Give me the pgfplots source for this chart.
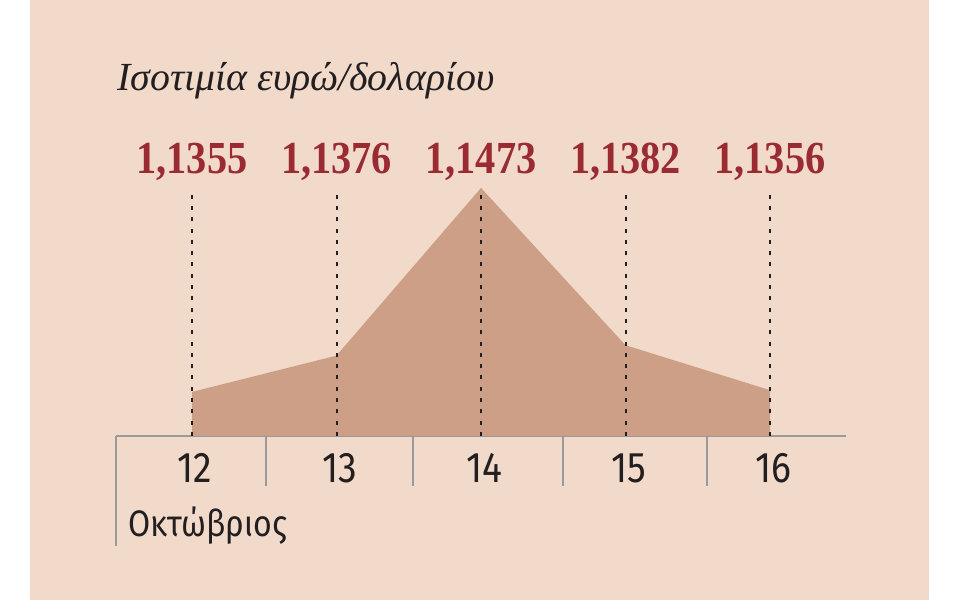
\documentclass[border=0pt]{standalone}
\usepackage{pgfplots}
\pgfplotsset{compat=1.18}
\usepackage{fontspec}
\setmainfont{Fira Sans}
\newfontfamily\condsans[FakeStretch=0.87]{Fira Sans}
\newfontfamily\titlefont{Liberation Serif}
\newfontfamily\numfont[FakeStretch=0.88]{Liberation Serif}
\definecolor{bgc}{HTML}{F1DACA}
\definecolor{areac}{HTML}{CC9F86}
\definecolor{redc}{HTML}{9B2B33}
\definecolor{greyc}{HTML}{9A9A9A}
\definecolor{inkc}{HTML}{231F20}
\begin{document}
\begin{tikzpicture}[x=1bp,y=1bp]
\fill[white] (0,0) rectangle (960,600);
\fill[bgc] (30,0) rectangle (929,600);
\begin{axis}[
  at={(116bp,164bp)}, anchor=south west,
  scale only axis, width=730bp, height=260.2bp,
  xmin=11.474, xmax=16.526, ymin=1.13295, ymax=1.1480,
  axis x line=bottom, axis y line=none,
  axis line style={-, greyc, line width=2bp},
  xtick={11.474,12.512,13.529,14.567,15.564},
  xticklabels={},
  tick align=outside, major tick length=50bp,
  tick style={greyc, line width=2bp},
  extra x ticks={12,13,14,15,16},
  extra x tick labels={12,13,14,15,16},
  extra x tick style={major tick length=0pt, tick style={draw=none},
    xticklabel style={anchor=base, yshift=-47bp, xshift=3bp, inner sep=0pt, text=inkc,
      font=\condsans\fontsize{43}{43}\selectfont}},
  /pgf/number format/assume math mode=true,
  clip mode=individual,
]
\addplot[fill=areac, draw=none] coordinates {
  (12,1.1355) (13,1.1376) (14,1.1473) (15,1.1382) (16,1.1356)
} \closedcycle;
\pgfplotsinvokeforeach{12,13,14,15,16}{
  \addplot[inkc, line width=2bp, dash pattern=on 4bp off 7.3bp]
    coordinates {(#1,1.13295) (#1,1.14718)};
}
\node[anchor=base, text=redc, font=\numfont\bfseries\fontsize{46}{46}\selectfont] at (axis cs:12,1.14816) {1,1355};
\node[anchor=base, text=redc, font=\numfont\bfseries\fontsize{46}{46}\selectfont] at (axis cs:13,1.14816) {1,1376};
\node[anchor=base, text=redc, font=\numfont\bfseries\fontsize{46}{46}\selectfont] at (axis cs:14,1.14816) {1,1473};
\node[anchor=base, text=redc, font=\numfont\bfseries\fontsize{46}{46}\selectfont] at (axis cs:15,1.14816) {1,1382};
\node[anchor=base, text=redc, font=\numfont\bfseries\fontsize{46}{46}\selectfont] at (axis cs:16,1.14816) {1,1356};
\end{axis}
\draw[greyc, line width=2bp] (116,164) -- (116,54);
\node[anchor=base west, inner sep=0pt, text=inkc, font=\titlefont\itshape\fontsize{40}{40}\selectfont] at (117,509) {Ισοτιμία ευρώ/δολαρίου};
\node[anchor=base west, inner sep=0pt, text=inkc, font=\condsans\fontsize{37}{37}\selectfont] at (128,63) {Οκτώβριος};
\end{tikzpicture}
\end{document}
